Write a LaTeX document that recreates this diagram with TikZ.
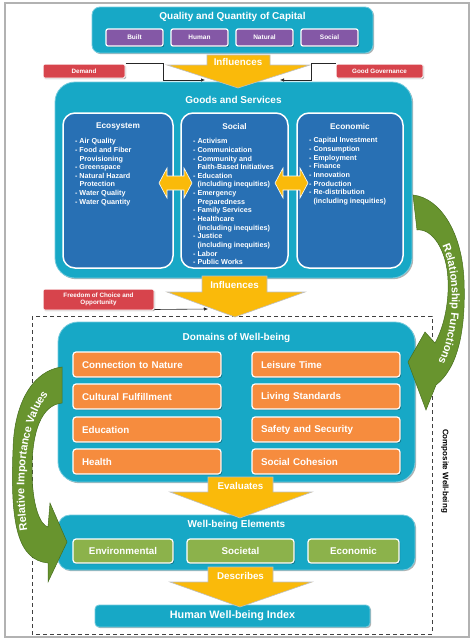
\documentclass[tikz,border=0pt]{standalone}
\usepackage{fontspec}
\setmainfont{Liberation Sans}
\usetikzlibrary{shadows,decorations.text,arrows.meta}
\definecolor{teal1}{RGB}{23,168,198}
\definecolor{blue1}{RGB}{40,112,180}
\definecolor{purp}{RGB}{132,88,166}
\definecolor{redb}{RGB}{215,68,76}
\definecolor{orng}{RGB}{246,140,62}
\definecolor{yel}{RGB}{250,186,10}
\definecolor{grnb}{RGB}{140,178,75}
\definecolor{grna}{RGB}{104,148,46}
\definecolor{grnd}{RGB}{70,110,30}
\newcommand\itm[1]{\makebox[4.3pt][l]{-}#1}
\newcommand\cnt[1]{\hspace*{4.3pt}#1}
\tikzset{
 shad/.style={drop shadow={shadow xshift=1.2pt,shadow yshift=-1.2pt,opacity=0.3,fill=black}},
 tealbox/.style={fill=teal1,draw=teal1!60!white,line width=0.8pt,inner sep=0pt,shad},
 blubox/.style={fill=blue1,draw=white,line width=1.5pt,rounded corners=12pt,inner sep=0pt},
 purbox/.style={fill=purp,draw=white,line width=1.2pt,rounded corners=2pt,minimum width=57pt,minimum height=17pt,inner sep=0pt,text=white,font=\bfseries\fontsize{6.5}{6.5}\selectfont,shad},
 redbox/.style={fill=redb,draw=white,line width=1pt,rounded corners=1.5pt,inner sep=0pt,text=white,font=\bfseries\fontsize{6.3}{7.4}\selectfont,align=center,shad},
 orbox/.style={fill=orng,draw=white,line width=1.2pt,rounded corners=3pt,minimum height=25pt,text width=130pt,inner xsep=9pt,inner ysep=0pt,align=left,text=white,font=\bfseries\fontsize{9.8}{9.8}\selectfont,shad},
 grbox/.style={fill=grnb,draw=white,line width=1.2pt,rounded corners=3pt,minimum height=24pt,inner sep=0pt,text=white,font=\bfseries\fontsize{9.8}{9.8}\selectfont,shad},
 ttl/.style={text=white,font=\bfseries\fontsize{10}{10}\selectfont,inner sep=0pt},
 subttl/.style={text=white,font=\bfseries\fontsize{8.3}{8.3}\selectfont,inner sep=0pt},
 lst/.style={text=white,font=\bfseries\fontsize{7.2}{8.64}\selectfont,inner sep=0pt,anchor=north west,align=left},
 yarr/.style={fill=yel,draw=black!25,line width=0.6pt},
 arrlbl/.style={text=white,font=\bfseries\fontsize{9.8}{9.8}\selectfont,inner sep=0pt},
 dbl/.style={fill=yel,draw=white,line width=0.6pt},
 conn/.style={draw=black!85,line width=0.6pt,-{Latex[length=4pt,width=3.5pt]}},
 garc/.style={fill=grna,draw=grnd,line width=0.5pt},
 arctext/.style={decorate,decoration={text along path,text align=center,raise=-3.2pt,text color=white,text={#1}}},
}
\begin{document}
\begin{tikzpicture}[x=1pt,y=-1pt]
\useasboundingbox (0,0) rectangle (474,643);
\fill[white] (0,0) rectangle (474,643);
\draw[black!30,line width=1.5pt] (5,3) rectangle (469,637);
% dashed composite frame
\draw[black!75,dashed,line width=0.7pt,dash pattern=on 4pt off 3pt] (32,316) rectangle (432,634);
\node[rotate=-90,font=\bfseries\fontsize{8}{8}\selectfont,inner sep=0pt] (cw) at (445,471) {Composite Well-being};

% top box
\node[tealbox,rounded corners=8pt,minimum width=281pt,minimum height=46pt] (qq) at (232.5,30) {};
\node[ttl] (qqt) at (232.5,17) {Quality and Quantity of Capital};
\node[purbox] (built) at (134.5,37.5) {Built};
\node[purbox] (human) at (199.5,37.5) {Human};
\node[purbox] (natural) at (264.5,37.5) {Natural};
\node[purbox] (social) at (329.5,37.5) {Social};

% goods and services
\node[tealbox,rounded corners=20pt,minimum width=357pt,minimum height=196pt] (gs) at (233.5,180) {};
\node[ttl] (gst) at (233.5,100) {Goods and Services};
\node[blubox,minimum width=110pt,minimum height=155pt] (eco) at (118,190.5) {};
\node[blubox,minimum width=107pt,minimum height=155pt] (soc) at (234.5,190.5) {};
\node[blubox,minimum width=106pt,minimum height=155pt] (econ) at (350,190.5) {};
\node[subttl] (ecot) at (118,127) {Ecosystem};
\node[subttl] (soct) at (234.5,127) {Social};
\node[subttl] (econt) at (350,127) {Economic};
\node[lst] (ecol) at (75,138.3) {\itm{Air Quality}\\\itm{Food and Fiber}\\\cnt{Provisioning}\\\itm{Greenspace}\\\itm{Natural Hazard}\\\cnt{Protection}\\\itm{Water Quality}\\\itm{Water Quantity}};
\node[lst] (socl) at (193,138.3) {\itm{Activism}\\\itm{Communication}\\\itm{Community and}\\\cnt{Faith-Based Initiatives}\\\itm{Education}\\\cnt{(including inequities)}\\\itm{Emergency}\\\cnt{Preparedness}\\\itm{Family Services}\\\itm{Healthcare}\\\cnt{(including inequities)}\\\itm{Justice}\\\cnt{(including inequities)}\\\itm{Labor}\\\itm{Public Works}};
\node[lst] (econl) at (309,137.5) {\itm{Capital Investment}\\\itm{Consumption}\\\itm{Employment}\\\itm{Finance}\\\itm{Innovation}\\\itm{Production}\\\itm{Re-distribution}\\\cnt{(including inequities)}};
\foreach \cx in {175.5,291.5}{
 \draw[dbl] ({\cx-16.5},183) -- ({\cx-8.5},168) -- ({\cx-8.5},176) -- ({\cx+8.5},176) -- ({\cx+8.5},168) -- ({\cx+16.5},183) -- ({\cx+8.5},198) -- ({\cx+8.5},190) -- ({\cx-8.5},190) -- ({\cx-8.5},198) -- cycle;
}

% red boxes
\node[redbox,minimum width=82pt,minimum height=14pt] (dem) at (84,71) {Demand};
\node[redbox,minimum width=87pt,minimum height=14pt] (gg) at (379.5,71) {Good Governance};
\node[redbox,minimum width=111pt,minimum height=21pt] (fr) at (98.5,299.5) {Freedom of Choice and\\Opportunity};

% influences 1
\draw[yarr] (207,55) -- (270,55) -- (270,65) -- (310,65) -- (238,88) -- (167,65) -- (207,65) -- cycle;
\node[arrlbl] (inf1) at (238,62) {Influences};
\coordinate (i1L) at (205,80);
\coordinate (i1R) at (280,80);
\draw[conn] (dem.north east) -- ++(38,0) |- (i1L);
\draw[conn] (gg.north west) -- ++(-24,0) |- (i1R);

% domains
\node[tealbox,rounded corners=20pt,minimum width=357pt,minimum height=160pt] (dom) at (236.5,402) {};
\node[ttl] (domt) at (236.5,338) {Domains of Well-being};
\node[orbox] (o1) at (147,364.5) {Connection to Nature};
\node[orbox] (o2) at (147,396.5) {Cultural Fulfillment};
\node[orbox] (o3) at (147,429.5) {Education};
\node[orbox] (o4) at (147,461.5) {Health};
\node[orbox] (o5) at (326,364.5) {Leisure Time};
\node[orbox] (o6) at (326,396.5) {Living Standards};
\node[orbox] (o7) at (326,429.5) {Safety and Security};
\node[orbox] (o8) at (326,461.5) {Social Cohesion};

% influences 2
\draw[yarr] (202,276) -- (267,276) -- (267,292) -- (305,292) -- (235,317) -- (167,292) -- (202,292) -- cycle;
\node[arrlbl] (inf2) at (234.5,285) {Influences};
\coordinate (i2L) at (208,309);
\draw[conn] ([yshift=1pt]fr.south east) -- (i2L);

% well-being elements
\node[tealbox,rounded corners=12pt,minimum width=357pt,minimum height=55pt] (we) at (236.5,542.5) {};
\node[ttl] (wet) at (236.5,525) {Well-being Elements};
\node[grbox,minimum width=100pt] (g1) at (123,551) {Environmental};
\node[grbox,minimum width=107pt] (g2) at (240.5,551) {Societal};
\node[grbox,minimum width=91pt] (g3) at (353.5,551) {Economic};

% evaluates
\draw[yarr] (208,477) -- (273,477) -- (273,492) -- (312,492) -- (240,518) -- (170,492) -- (208,492) -- cycle;
\node[arrlbl] (eval) at (240.5,486) {Evaluates};

% HWI
\node[tealbox,rounded corners=4pt,minimum width=275pt,minimum height=22pt,text=white,font=\bfseries\fontsize{10.8}{10.8}\selectfont] (hwi) at (232.5,616) {Human Well-being Index};

% describes
\draw[yarr] (208,567) -- (273,567) -- (273,582) -- (312,582) -- (240,607) -- (170,582) -- (208,582) -- cycle;
\node[arrlbl] (desc) at (240.5,576) {Describes};

% right curved arrow
\draw[garc] (413,195) .. controls (440,198) and (462,232) .. (464,280) .. controls (466,330) and (458,368) .. (436,385) -- (426,410) -- (408,362) -- (425,332) -- (435,343) .. controls (445,325) and (449,300) .. (448,280) .. controls (447,250) and (432,228) .. (417,230) -- cycle;
\path[arctext={|\bfseries\fontsize{11}{11}\selectfont|Relationship Functions}] (436,230) .. controls (462,260) and (462,340) .. (432,378);

% left curved arrow
\draw[garc] (62,367) .. controls (35,370) and (14,400) .. (13,450) .. controls (10,525) and (18,560) .. (48,563) -- (48,582) -- (67,542) -- (50,503) -- (48,527) .. controls (40,525) and (32,505) .. (32,470) .. controls (32,430) and (42,405) .. (62,403) -- cycle;
\path[arctext={|\bfseries\fontsize{11}{11}\selectfont|Relative Importance Values}] (26,540) .. controls (18,500) and (16,420) .. (52,385);
\end{tikzpicture}
\end{document}
